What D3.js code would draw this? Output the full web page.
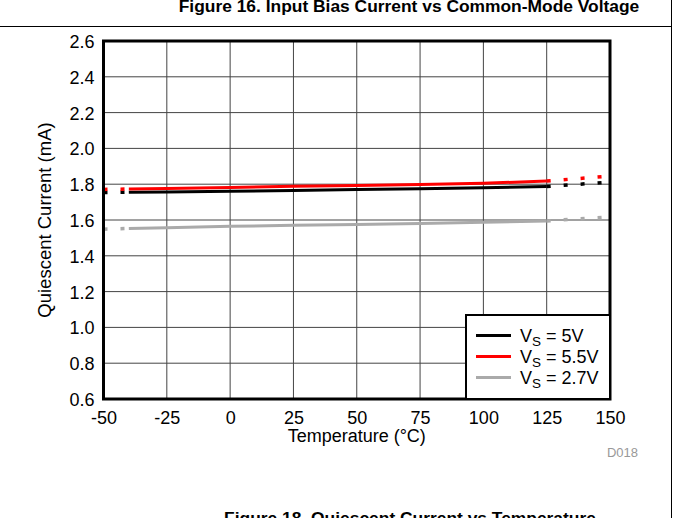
<!DOCTYPE html>
<html>
<head>
<meta charset="utf-8">
<script src="https://cdn.jsdelivr.net/npm/d3@7"></script>
<style>
  html, body { margin: 0; padding: 0; background: #fff; }
  svg { display: block; font-family: "Liberation Sans", Arial, sans-serif; }
</style>
</head>
<body>
<svg id="chart" width="674" height="518"></svg>
<script>
"use strict";

const tempsSolid = [-40, -25, 0, 25, 50, 75, 100, 125];
const tempsLow = [-50, -40];
const tempsHigh = [125, 150];

const vs5 = [1.755, 1.757, 1.760, 1.765, 1.770, 1.775, 1.780, 1.787];
const vs5Low = [1.753, 1.755];
const vs5High = [1.787, 1.812];

const vs55 = [1.773, 1.776, 1.782, 1.788, 1.793, 1.798, 1.805, 1.818];
const vs55Low = [1.771, 1.773];
const vs55High = [1.818, 1.845];

const vs27 = [1.553, 1.557, 1.565, 1.570, 1.575, 1.580, 1.587, 1.595];
const vs27Low = [1.549, 1.553];
const vs27High = [1.595, 1.617];

const xTicks = [-50, -25, 0, 25, 50, 75, 100, 125, 150];
const yTicks = [0.6, 0.8, 1.0, 1.2, 1.4, 1.6, 1.8, 2.0, 2.2, 2.4, 2.6];

const seriesNames = ["5V", "5.5V", "2.7V"];
const seriesColors = ["#000000", "#ff0000", "#aaaaaa"];

let svg = d3.select("#chart");

let plot = { left: 103.5, right: 610, top: 41, bottom: 399 };

let x = d3.scaleLinear().domain([-50, 150]).range([plot.left, plot.right]);
let y = d3.scaleLinear().domain([0.6, 2.6]).range([plot.bottom, plot.top]);

const fontLabel = "18px";

// page decorations (clipped captions + frame lines)
svg.append("text")
  .attr("x", 409).attr("y", 12)
  .attr("text-anchor", "middle")
  .style("font-size", "17.4px").style("font-weight", "bold")
  .text("Figure 16. Input Bias Current vs Common-Mode Voltage");

svg.append("line")
  .attr("x1", 0).attr("x2", 671).attr("y1", 26.5).attr("y2", 26.5)
  .attr("stroke", "#000").attr("stroke-width", 1);
svg.append("line")
  .attr("x1", 671.5).attr("x2", 671.5).attr("y1", 0).attr("y2", 518)
  .attr("stroke", "#000").attr("stroke-width", 1);

svg.append("text")
  .attr("x", 410).attr("y", 524)
  .attr("text-anchor", "middle")
  .style("font-size", "17.4px").style("font-weight", "bold")
  .text("Figure 18. Quiescent Current vs Temperature");

// gridlines
svg.append("g").selectAll("line")
  .data(xTicks.slice(1, -1))
  .enter().append("line")
  .attr("x1", d => x(d)).attr("x2", d => x(d))
  .attr("y1", plot.top).attr("y2", plot.bottom)
  .attr("stroke", "#444").attr("stroke-width", 1);

svg.append("g").selectAll("line")
  .data(yTicks.slice(1, -1))
  .enter().append("line")
  .attr("x1", plot.left).attr("x2", plot.right)
  .attr("y1", d => y(d)).attr("y2", d => y(d))
  .attr("stroke", "#444").attr("stroke-width", 1);

// axes (labels only, frame drawn separately)
let xAxis = svg.append("g")
  .attr("transform", `translate(0,${plot.bottom})`)
  .call(d3.axisBottom(x).tickValues(xTicks).tickSize(0).tickPadding(12).tickFormat(d => String(d)));
let yAxis = svg.append("g")
  .attr("transform", `translate(${plot.left},0)`)
  .call(d3.axisLeft(y).tickValues(yTicks).tickSize(0).tickPadding(9).tickFormat(d3.format(".1f")));
[xAxis, yAxis].forEach(a => {
  a.select(".domain").remove();
  a.selectAll("text")
    .style("font-size", fontLabel)
    .style("font-family", "'Liberation Sans', Arial, sans-serif")
    .attr("fill", "#000");
});
yAxis.selectAll("text").attr("dy", "0.36em");

// data lines
let line = d3.line().x(d => x(d[0])).y(d => y(d[1]));
let zip = (a, b) => a.map((t, i) => [t, b[i]]);

let series = [
  { solid: vs5, low: vs5Low, high: vs5High },
  { solid: vs55, low: vs55Low, high: vs55High },
  { solid: vs27, low: vs27Low, high: vs27High }
];

// draw gray first, then black, then red on top
[2, 0, 1].forEach(i => {
  let s = series[i];
  svg.append("path")
    .attr("d", line(zip(tempsSolid, s.solid)))
    .attr("fill", "none")
    .attr("stroke", seriesColors[i])
    .attr("stroke-width", 3);
  [zip(tempsLow, s.low), zip(tempsHigh, s.high)].forEach(pts => {
    svg.append("path")
      .attr("d", line(pts))
      .attr("fill", "none")
      .attr("stroke", seriesColors[i])
      .attr("stroke-width", 3.5)
      .attr("stroke-dasharray", "4,13");
  });
});

// plot frame
svg.append("rect")
  .attr("x", plot.left).attr("y", plot.top)
  .attr("width", plot.right - plot.left).attr("height", plot.bottom - plot.top)
  .attr("fill", "none").attr("stroke", "#000").attr("stroke-width", 3);

// legend
let lg = { left: 466, top: 315, right: 610, bottom: 399 };
svg.append("rect")
  .attr("x", lg.left).attr("y", lg.top)
  .attr("width", lg.right - lg.left).attr("height", lg.bottom - lg.top)
  .attr("fill", "#fff").attr("stroke", "#000").attr("stroke-width", 2);

let legendRows = [335.5, 356.5, 377.5];
seriesNames.forEach((name, i) => {
  let ry = legendRows[i];
  svg.append("line")
    .attr("x1", 476).attr("x2", 511)
    .attr("y1", ry).attr("y2", ry)
    .attr("stroke", seriesColors[i]).attr("stroke-width", 3);
  let t = svg.append("text")
    .attr("x", 520).attr("y", ry + 6.5)
    .style("font-size", fontLabel);
  t.append("tspan").text("V");
  t.append("tspan").attr("dy", 4).style("font-size", "13.5px").text("S");
  t.append("tspan").attr("dy", -4).text(" = " + name);
});

// axis titles
svg.append("text")
  .attr("x", (plot.left + plot.right) / 2).attr("y", 442)
  .attr("text-anchor", "middle")
  .style("font-size", fontLabel)
  .text("Temperature (\u00B0C)");

svg.append("text")
  .attr("transform", `translate(51,${(plot.top + plot.bottom) / 2}) rotate(-90)`)
  .attr("text-anchor", "middle")
  .style("font-size", "18.5px")
  .text("Quiescent Current (mA)");

svg.append("text")
  .attr("x", 638).attr("y", 457)
  .attr("text-anchor", "end")
  .attr("fill", "#999")
  .style("font-size", "13px")
  .text("D018");
</script>
</body>
</html>
